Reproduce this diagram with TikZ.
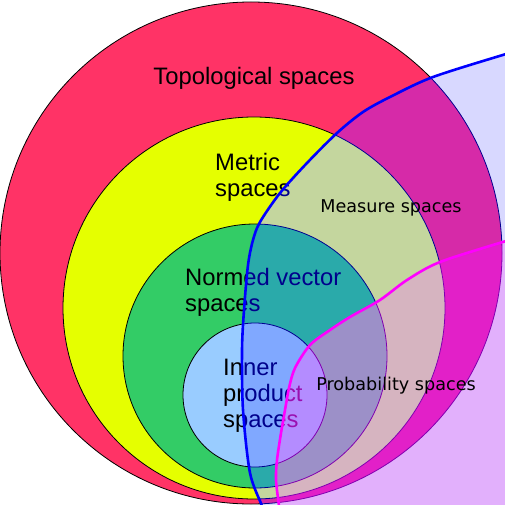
\documentclass[tikz,border=0pt]{standalone}
\usepackage{fontspec}
\setmainfont{Liberation Sans}
\newfontfamily\djv{DejaVu Sans}
\definecolor{cTopo}{HTML}{FF3366}
\definecolor{cMetric}{HTML}{E5FF00}
\definecolor{cNormed}{HTML}{33CC66}
\definecolor{cInner}{HTML}{99CCFF}
\definecolor{mWhite}{HTML}{D8D8FF}
\definecolor{mTopo}{HTML}{D62AA8}
\definecolor{mMetric}{HTML}{C4D69E}
\definecolor{mNormed}{HTML}{2AAAAA}
\definecolor{mInner}{HTML}{80A8FF}
\definecolor{pWhite}{HTML}{E2B0FC}
\definecolor{pTopo}{HTML}{E220C8}
\definecolor{pMetric}{HTML}{D6B4C0}
\definecolor{pNormed}{HTML}{9C90C8}
\definecolor{pInner}{HTML}{B48CFF}
\definecolor{mText}{HTML}{00008C}
\definecolor{pText}{HTML}{9A10B0}
\definecolor{mLine}{HTML}{000090}
\definecolor{pLine}{HTML}{8000B0}
\definecolor{curveBlue}{RGB}{0,0,255}
\definecolor{curveMag}{RGB}{255,0,255}
\newcommand\mydisks[5]{%
  \filldraw[fill=#1,draw=#5,line width=0.8pt] (251,253) circle[radius=251pt];
  \filldraw[fill=#2,draw=#5,line width=0.8pt] (254,308) circle[radius=191pt];
  \filldraw[fill=#3,draw=#5,line width=0.8pt] (255,356) circle[radius=132pt];
  \filldraw[fill=#4,draw=#5,line width=0.8pt] (255,395) circle[radius=72pt];}
\newcommand\mylabels[2]{%
  \node[lab,text=#1,anchor=base] (#2topo) at (254,85) {Topological spaces};
  \node[lab,text=#1] (#2met1) at (215,171) {Metric};
  \node[lab,text=#1] (#2met2) at (215,196) {spaces};
  \node[lab,text=#1] (#2nor1) at (185,285) {Normed vector};
  \node[lab,text=#1] (#2nor2) at (185,311) {spaces};
  \node[lab,text=#1] (#2inn1) at (223,375) {Inner};
  \node[lab,text=#1] (#2inn2) at (223,401) {product};
  \node[lab,text=#1] (#2inn3) at (223,427) {spaces};}
\begin{document}
\begin{tikzpicture}[x=1pt,y=-1pt,
  lab/.style={font=\fontsize{23.8}{28}\selectfont, inner sep=0pt, anchor=base west},
  sm/.style={font=\djv\fontsize{17.6}{21}\selectfont, inner sep=0pt, anchor=base}]
\useasboundingbox (0,0) rectangle (505,505);
\fill[white] (0,0) rectangle (505,505);
\mydisks{cTopo}{cMetric}{cNormed}{cInner}{black}
\mylabels{black}{a}
\begin{scope}
  \clip plot[smooth] coordinates {(264,515) (262,506) (250,473) (243,410) (242,350) (244,310) (248,265) (253,240) (260,222) (280,193) (307,163) (337,133) (363,112) (390,97) (433,77) (506,54) (520,50)} -- (530,530) -- (264,530) -- cycle;
  \fill[mWhite] (0,0) rectangle (530,530);
  \mydisks{mTopo}{mMetric}{mNormed}{mInner}{mLine}
  \mylabels{mText}{b}
\end{scope}
\begin{scope}
  \clip plot[smooth] coordinates {(280,515) (279,506) (276,480) (277,460) (281,433) (285,410) (289,388) (295,368) (310,345) (330,330) (350,317) (380,300) (407,280) (440,262) (506,241) (520,237)} -- (530,530) -- (280,530) -- cycle;
  \fill[pWhite] (0,0) rectangle (530,530);
  \mydisks{pTopo}{pMetric}{pNormed}{pInner}{pLine}
  \mylabels{pText}{c}
\end{scope}
\node[sm] (measure) at (391,212) {Measure spaces};
\node[sm] (prob) at (396,390) {Probability spaces};
\draw[curveBlue, line width=2.6pt] plot[smooth] coordinates {(264,515) (262,506) (250,473) (243,410) (242,350) (244,310) (248,265) (253,240) (260,222) (280,193) (307,163) (337,133) (363,112) (390,97) (433,77) (506,54) (520,50)};
\draw[curveMag, line width=2.6pt] plot[smooth] coordinates {(280,515) (279,506) (276,480) (277,460) (281,433) (285,410) (289,388) (295,368) (310,345) (330,330) (350,317) (380,300) (407,280) (440,262) (506,241) (520,237)};
\end{tikzpicture}
\end{document}
